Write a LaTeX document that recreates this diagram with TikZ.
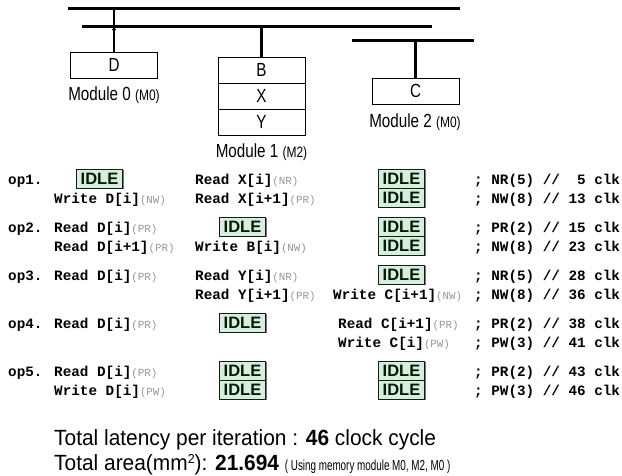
\documentclass[tikz,border=0pt]{standalone}
\usepackage{fontspec}
\setmainfont{Liberation Sans}
\newfontfamily\labelfont[FakeStretch=0.8]{Liberation Sans}
\newfontfamily\notefont[FakeStretch=0.95]{Liberation Sans}
\newfontfamily\smallnotefont[FakeStretch=0.68]{Liberation Sans}
\newfontfamily\codefont{Liberation Mono}
\usetikzlibrary{arrows.meta,shadows}
\definecolor{idlefill}{RGB}{212,240,218}
\definecolor{idletext}{RGB}{8,24,10}
\definecolor{modegray}{RGB}{150,150,150}
% access text: bold operation followed by a small grey access-mode tag
\newcommand{\acc}[2]{\textbf{#1}{\fontsize{10.8}{12}\selectfont\mdseries\color{modegray}(#2)}}
\tikzset{
  bus/.style={line width=3pt},
  stub/.style={line width=2.4pt},
  membox/.style={draw, line width=0.9pt, minimum width=87pt, minimum height=26pt, inner sep=0pt,
    font=\labelfont\fontsize{19}{19}\selectfont},
  modlabel/.style={inner sep=0pt, font=\labelfont\fontsize{19}{19}\selectfont},
  idle/.style={draw=black!90, fill=idlefill, line width=1pt, minimum width=46pt, minimum height=19pt,
    inner sep=0pt, text=idletext, font=\fontsize{16.5}{16.5}\selectfont\bfseries,
    drop shadow={shadow xshift=1.2pt, shadow yshift=-1.2pt, fill=black!60, opacity=0.9}},
  code/.style={anchor=base west, inner sep=0pt, font=\codefont\fontsize{14.3}{15}\selectfont\bfseries},
  note/.style={anchor=base west, inner sep=0pt, font=\notefont\fontsize{22}{22}\selectfont},
}
\begin{document}
\begin{tikzpicture}[x=1pt, y=-1pt]
\useasboundingbox (0,0) rectangle (622,475);
\fill[white] (0,0) rectangle (622,475);

% ---- buses ----
\coordinate (b1w) at (68,8);   \coordinate (b1e) at (460,8);
\coordinate (b2w) at (82,26);  \coordinate (b2e) at (432,26);
\coordinate (b3w) at (352,40); \coordinate (b3e) at (474,40);
\draw[bus] (b1w) -- (b1e);
\draw[bus] (b2w) -- (b2e);
\draw[bus] (b3w) -- (b3e);

% ---- memory modules ----
\node[membox] (dbox) at (114,65) {D};
\node[modlabel] (m0lab) at (114,95) {Module 0 {\fontsize{15}{15}\selectfont(M0)}};

\node[membox] (bbox) at (261.5,70) {B};
\node[membox] (xbox) at (261.5,96) {X};
\node[membox] (ybox) at (261.5,122) {Y};
\node[modlabel] (m1lab) at (261.5,152) {Module 1 {\fontsize{15}{15}\selectfont(M2)}};

\node[membox] (cbox) at (415.5,91) {C};
\node[modlabel] (m2lab) at (415,122) {Module 2 {\fontsize{15}{15}\selectfont(M0)}};

% ---- module ports ----
\draw[stub, -{Latex[length=4pt,width=4.5pt]}] (dbox.north) -- (dbox.north |- b2w);
\draw[stub] (dbox.north |- b2w) -- (dbox.north |- b1w);
\draw[stub] (bbox.north) -- (bbox.north |- b2w);
\draw[stub] (cbox.north) -- (cbox.north |- b3w);

% ---- schedule ----
% op1
\node[code] (op1) at (8,184.7) {op1.};
\node[idle] (i1a) at (99.5,178.5) {IDLE};
\node[code] (w1)  at (54,203.7) {\acc{Write D[i]}{NW}};
\node[code] (r1a) at (195,184.7) {\acc{Read X[i]}{NR}};
\node[code] (r1b) at (195,203.7) {\acc{Read X[i+1]}{PR}};
\node[idle] (i1b) at (401.5,178.5) {IDLE};
\node[idle] (i1c) at (401.5,197.5) {IDLE};
\node[code] (c1a) at (474,184.7) {; NR(5) //\ \ 5 clk};
\node[code] (c1b) at (474,203.7) {; NW(8) // 13 clk};
% op2
\node[code] (op2) at (8,232.7) {op2.};
\node[code] (r2a) at (54,232.7) {\acc{Read D[i]}{PR}};
\node[code] (r2b) at (54,251.7) {\acc{Read D[i+1]}{PR}};
\node[idle] (i2a) at (242.5,226.5) {IDLE};
\node[code] (w2)  at (195,251.7) {\acc{Write B[i]}{NW}};
\node[idle] (i2b) at (401.5,226.5) {IDLE};
\node[idle] (i2c) at (401.5,245.5) {IDLE};
\node[code] (c2a) at (474,232.7) {; PR(2) // 15 clk};
\node[code] (c2b) at (474,251.7) {; NW(8) // 23 clk};
% op3
\node[code] (op3) at (8,280.7) {op3.};
\node[code] (r3a) at (54,280.7) {\acc{Read D[i]}{PR}};
\node[code] (r3b) at (195,280.7) {\acc{Read Y[i]}{NR}};
\node[code] (r3c) at (195,299.7) {\acc{Read Y[i+1]}{PR}};
\node[idle] (i3a) at (401.5,274.5) {IDLE};
\node[code] (w3)  at (333,299.7) {\acc{Write C[i+1]}{NW}};
\node[code] (c3a) at (474,280.7) {; NR(5) // 28 clk};
\node[code] (c3b) at (474,299.7) {; NW(8) // 36 clk};
% op4
\node[code] (op4) at (8,328.7) {op4.};
\node[code] (r4a) at (54,328.7) {\acc{Read D[i]}{PR}};
\node[idle] (i4a) at (242.5,322.5) {IDLE};
\node[code] (r4b) at (338,328.7) {\acc{Read C[i+1]}{PR}};
\node[code] (w4)  at (338,347.7) {\acc{Write C[i]}{PW}};
\node[code] (c4a) at (474,328.7) {; PR(2) // 38 clk};
\node[code] (c4b) at (474,347.7) {; PW(3) // 41 clk};
% op5
\node[code] (op5) at (8,376.7) {op5.};
\node[code] (r5a) at (54,376.7) {\acc{Read D[i]}{PR}};
\node[code] (w5)  at (54,395.7) {\acc{Write D[i]}{PW}};
\node[idle] (i5a) at (242.5,370.5) {IDLE};
\node[idle] (i5b) at (242.5,389.5) {IDLE};
\node[idle] (i5c) at (401.5,370.5) {IDLE};
\node[idle] (i5d) at (401.5,389.5) {IDLE};
\node[code] (c5a) at (474,376.7) {; PR(2) // 43 clk};
\node[code] (c5b) at (474,395.7) {; PW(3) // 46 clk};

% ---- totals ----
\node[note] (lat) at (54,445) {Total latency per iteration : \textbf{46} clock cycle};
\node[note] (area) at (54,470) {Total area(mm\raisebox{7pt}{\fontsize{13}{13}\selectfont 2}): \textbf{21.694} {\smallnotefont\fontsize{14.5}{14.5}\selectfont ( Using memory module M0, M2, M0 )}};
\end{tikzpicture}
\end{document}
